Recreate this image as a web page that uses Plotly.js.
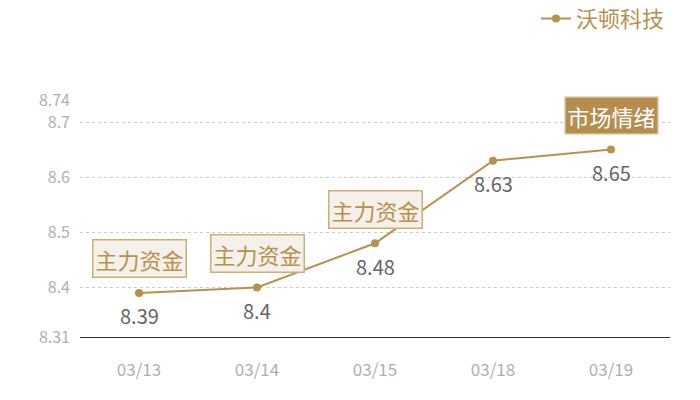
<!DOCTYPE html>
<html>
<head>
<meta charset="utf-8">
<script src="https://cdn.plot.ly/plotly-3.0.1.min.js"></script>
<style>
  html, body { margin: 0; padding: 0; background: #fff; }
  #chart { width: 700px; height: 400px; }
</style>
</head>
<body>
<div id="chart"></div>
<script>
// chart data
const dates = ["03/13", "03/14", "03/15", "03/18", "03/19"];
const prices = [8.39, 8.4, 8.48, 8.63, 8.65];
const seriesName = "沃顿科技";
const yTicks = [8.31, 8.4, 8.5, 8.6, 8.7, 8.74];
const yTickText = ["8.31", "8.4", "8.5", "8.6", "8.7", "8.74"];
// tags shown above the points: [index, text, filled]
const tags = [
  [0, "主力资金", false],
  [1, "主力资金", false],
  [2, "主力资金", false],
  [4, "市场情绪", true],
];

const gold = "#b8914f";
const font = "Noto Sans CJK SC, Noto Sans, sans-serif";

const trace = {
  x: dates,
  y: prices,
  name: seriesName,
  type: "scatter",
  mode: "lines+markers",
  line: { color: gold, width: 2 },
  marker: { color: gold, size: 8 },
  cliponaxis: false,
  hoverinfo: "x+y",
};

// value labels under each point
const valueLabels = prices.map(function (v, i) {
  return {
    x: dates[i],
    y: v,
    text: String(v),
    showarrow: false,
    yshift: -23,
    font: { family: font, size: 20, color: "#666666" },
  };
});

const tagLabels = tags.map(function (t) {
  return {
    x: dates[t[0]],
    y: prices[t[0]],
    text: t[1],
    showarrow: false,
    yshift: 34,
    font: { family: font, size: 22, color: t[2] ? "#ffffff" : gold },
    bgcolor: t[2] ? "#b58e4f" : "#f5f0ea",
    bordercolor: t[2] ? "#e9dcc6" : "#cfae78",
    borderwidth: 1.5,
    borderpad: 2,
  };
});

const layout = {
  width: 700,
  height: 400,
  margin: { l: 80, r: 30, t: 100, b: 63 },
  paper_bgcolor: "#ffffff",
  plot_bgcolor: "#ffffff",
  font: { family: font },
  showlegend: true,
  legend: {
    orientation: "h",
    x: 1,
    xanchor: "right",
    yref: "container",
    y: 0.953,
    yanchor: "middle",
    font: { family: font, size: 22, color: gold },
    itemwidth: 30,
  },
  xaxis: {
    type: "category",
    range: [-0.5, 4.5],
    showgrid: false,
    showline: true,
    linecolor: "#333333",
    linewidth: 1,
    ticks: "",
    tickfont: { family: font, size: 17, color: "#b0b0b0" },
    ticklabelstandoff: 18,
    fixedrange: true,
  },
  yaxis: {
    range: [8.31, 8.74],
    tickvals: yTicks,
    ticktext: yTickText,
    showgrid: true,
    gridcolor: "#cccccc",
    griddash: "dot",
    gridwidth: 1,
    zeroline: false,
    showline: false,
    ticks: "",
    tickfont: { family: font, size: 16, color: "#b0b0b0" },
    ticklabelstandoff: 9,
    fixedrange: true,
  },
  annotations: valueLabels.concat(tagLabels),
};

Plotly.newPlot("chart", [trace], layout, { displayModeBar: false });
</script>
</body>
</html>
